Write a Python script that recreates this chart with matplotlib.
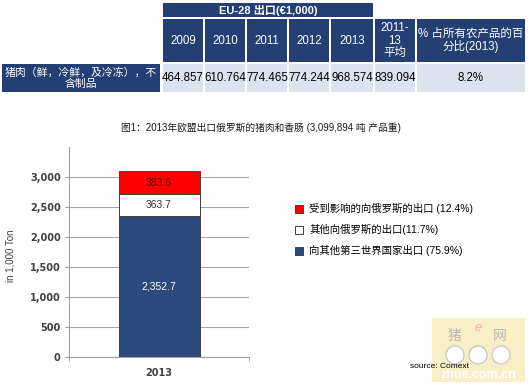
import matplotlib.pyplot as plt
from matplotlib.patches import Rectangle, Circle

plt.rcParams['font.family'] = ['Liberation Sans', 'Noto Sans CJK SC', 'DejaVu Sans']

# ---- table data ----
table_title = 'EU-28 出口(€1,000)'
table_headers = ['2009', '2010', '2011', '2012', '2013', '2011-\n13\n平均', '% 占所有农产品的百\n分比(2013)']
row_label = '猪肉（鲜，冷鲜，及冷冻），不\n含制品'
row_values = ['464.857', '610.764', '774.465', '774.244', '968.574', '839.094', '8.2%']

# ---- chart data ----
chart_title = '图1：2013年欧盟出口俄罗斯的猪肉和香肠 (3,099,894 吨 产品重)'
year = ['2013']
other_third = [2352.7]
other_russia = [363.7]
affected_russia = [383.6]
legend_labels = ['受到影响的向俄罗斯的出口 (12.4%)', '其他向俄罗斯的出口(11.7%)', '向其他第三世界国家出口 (75.9%)']
y_label = 'in 1,000 Ton'
source = 'source: Comext'

W, H = 530, 385
navy = '#233f74'
cell_bg = '#dde3ee'
grey = '#404040'

fig = plt.figure(figsize=(W / 100, H / 100), dpi=100)

# overlay in pixel coordinates for the table and decorations
ov = fig.add_axes([0, 0, 1, 1])
ov.set_xlim(0, W)
ov.set_ylim(H, 0)
ov.axis('off')


def cell(x0, x1, y0, y1, color, text, tcolor, size=8, ls=1.15):
    ov.add_patch(Rectangle((x0, y0), x1 - x0, y1 - y0, facecolor=color, edgecolor='none'))
    return ov.text((x0 + x1) / 2, (y0 + y1) / 2, text, color=tcolor, fontsize=size,
                   ha='center', va='center', linespacing=ls)


col_edges = [163, 205, 247, 289, 331, 375, 417, 527]
t = cell(col_edges[0], 373, 3, 17, navy, table_title, 'white', 8)
t.set_fontweight('bold')
for i, h in enumerate(table_headers):
    cell(col_edges[i], col_edges[i + 1] - 2, 19, 62, navy, h, 'white', 8.3, 1.05)
cell(2, 160, 64, 92, navy, row_label, 'white', 7.8, 1.1)
for i, v in enumerate(row_values):
    cell(col_edges[i], col_edges[i + 1] - 2, 64, 92, cell_bg, v, 'black', 8.3)

ov.text(261, 128, chart_title, fontsize=7, ha='center', va='center', color='#1a1a1a')

# ---- stacked bar chart ----
ax = fig.add_axes([69 / W, (H - 357) / H, 180 / W, 210 / H])
b1 = ax.bar(year, other_third, width=0.45, color='#2c4a7e', edgecolor=grey, linewidth=0.7, zorder=3)
b2 = ax.bar(year, other_russia, bottom=other_third, width=0.45, color='white',
            edgecolor=grey, linewidth=0.7, zorder=3)
bottom3 = [a + b for a, b in zip(other_third, other_russia)]
b3 = ax.bar(year, affected_russia, bottom=bottom3, width=0.45, color='#ff0000',
            edgecolor=grey, linewidth=0.7, zorder=3)

ax.bar_label(b1, labels=[f'{v:,.1f}' for v in other_third], label_type='center', color='white', fontsize=7.5)
ax.bar_label(b2, labels=[f'{v:,.1f}' for v in other_russia], label_type='center', color='#333333', fontsize=7.5)
ax.bar_label(b3, labels=[f'{v:,.1f}' for v in affected_russia], label_type='center', color='#5a0000', fontsize=7.5)

ax.set_xlim(-0.5, 0.5)
ax.set_ylim(0, 3500)
ax.set_yticks(range(0, 3001, 500))
ax.set_yticklabels([f'{v:,}' for v in range(0, 3001, 500)], family='DejaVu Sans',
                   fontweight='bold', fontsize=7, color=grey)
ax.set_xticks([0])
ax.set_xticklabels(year, family='DejaVu Sans', fontweight='bold', fontsize=7, color=grey)
ax.set_xticks([-0.5, 0.5], minor=True)
ax.tick_params(axis='x', which='major', length=0, pad=8)
ax.tick_params(axis='x', which='minor', length=3, color='#999999')
ax.tick_params(axis='y', length=3, color='#999999', pad=3)
ax.grid(axis='y', color='#a6a6a6', linewidth=0.8, zorder=0)
for s in ['top', 'right']:
    ax.spines[s].set_visible(False)
for s in ['left', 'bottom']:
    ax.spines[s].set_color('#a0a0a0')
ax.set_ylabel(y_label, fontsize=7, color=grey)
ax.yaxis.set_label_coords(-0.295, 0.48)

fig.legend([b3, b2, b1], legend_labels, loc='upper left', bbox_to_anchor=(286 / W, 1 - 194 / H),
           frameon=False, fontsize=7.5, handlelength=0.75, handleheight=0.75,
           handletextpad=0.6, labelspacing=0.95)

# watermark and source
ov.add_patch(Rectangle((432, 318), 93, 64, facecolor='#f8efc6', edgecolor='none'))
ov.text(455, 336, '猪', fontsize=10, color='#b8b8b8', ha='center', va='center')
ov.text(500, 336, '网', fontsize=10, color='#b8b8b8', ha='center', va='center')
ov.text(478, 328, 'e', fontsize=9, color='#f0b0b0', ha='center', va='center', style='italic')
for cx in [455, 478, 501]:
    ov.add_patch(Circle((cx, 355), 9, facecolor='white', edgecolor='#c8c8c8', linewidth=1))
ov.text(478, 375, 'zhue.com.cn', fontsize=9, color='white', ha='center', va='center', fontweight='bold')
ov.text(440, 367, source, fontsize=6, color='black', ha='center', va='center')

fig.savefig('out.png', dpi=100)
